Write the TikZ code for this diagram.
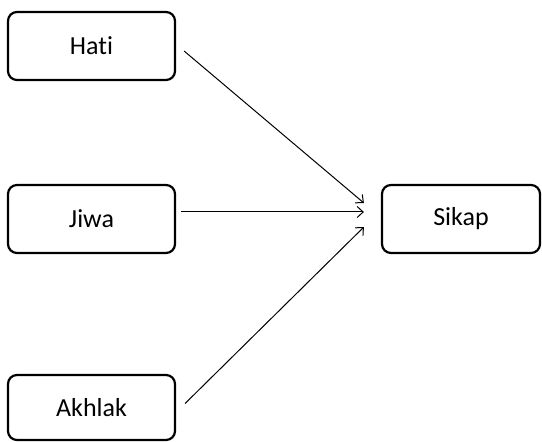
\documentclass[tikz,border=0pt]{standalone}
\usepackage{fontspec}
\setmainfont[Ligatures=NoCommon]{Carlito}
\usetikzlibrary{arrows.meta}
\begin{document}
\begin{tikzpicture}[x=1pt,y=1pt,
  box/.style={draw, line width=2.2pt, rounded corners=9pt, inner sep=0pt, font=\fontsize{26}{30}\selectfont},
  arr/.style={line width=1pt, -{Straight Barb[length=6pt,width=11pt]}}]
\useasboundingbox (0,0) rectangle (542,442);
\node[box, minimum width=167pt, minimum height=68pt] (hati) at (91.5,396) {Hati};
\node[box, minimum width=167pt, minimum height=68pt] (jiwa) at (91.5,223) {Jiwa};
\node[box, minimum width=167pt, minimum height=65pt] (akhlak) at (91.5,34.5) {Akhlak};
\node[box, minimum width=158pt, minimum height=68pt] (sikap) at (461,223) {Sikap};
\draw[arr] ([xshift=8pt,yshift=-5pt]hati.east) -- ([xshift=-17pt,yshift=16pt]sikap.west);
\draw[arr] ([xshift=5pt,yshift=7pt]jiwa.east) -- ([xshift=-17pt,yshift=7pt]sikap.west);
\draw[arr] ([xshift=9pt,yshift=4pt]akhlak.east) -- ([xshift=-17pt,yshift=-8pt]sikap.west);
\end{tikzpicture}
\end{document}
